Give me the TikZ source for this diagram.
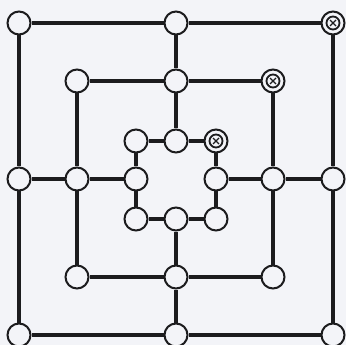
\documentclass[tikz,border=0pt]{standalone}
\usepackage{xcolor}
\definecolor{paper}{RGB}{243,244,248}
\definecolor{ink}{RGB}{28,28,30}

\tikzset{
  point/.style={circle,draw=ink,line width=2pt,fill=paper,minimum size=23pt,inner sep=0pt},
  taken/.style={point,path picture={
      \draw[ink,line width=1.8pt] (path picture bounding box.center) circle (6.5pt);
      \draw[ink,line width=1.2pt] ([shift={(-3pt,-3pt)}]path picture bounding box.center) -- ([shift={(3pt,3pt)}]path picture bounding box.center);
      \draw[ink,line width=1.2pt] ([shift={(-3pt,3pt)}]path picture bounding box.center) -- ([shift={(3pt,-3pt)}]path picture bounding box.center);
  }},
  board/.style={ink,line width=3.2pt}
}

\begin{document}
\begin{tikzpicture}[x=1pt,y=-1pt]
\fill[paper] (0,0) rectangle (346,345);
\useasboundingbox (0,0) rectangle (346,345);

% outer square
\node[point] (otl) at (19,23) {};
\node[point] (otc) at (176,23) {};
\node[taken] (otr) at (333,23) {};
\node[point] (oml) at (19,179) {};
\node[point] (omr) at (333,179) {};
\node[point] (obl) at (19,335) {};
\node[point] (obc) at (176,335) {};
\node[point] (obr) at (333,335) {};

% middle square
\node[point] (mtl) at (77,81) {};
\node[point] (mtc) at (176,81) {};
\node[taken] (mtr) at (273,81) {};
\node[point] (mml) at (77,179) {};
\node[point] (mmr) at (273,179) {};
\node[point] (mbl) at (77,277) {};
\node[point] (mbc) at (176,277) {};
\node[point] (mbr) at (273,277) {};

% inner square
\node[point] (itl) at (136,141) {};
\node[point] (itc) at (176,141) {};
\node[taken] (itr) at (216,141) {};
\node[point] (iml) at (136,179) {};
\node[point] (imr) at (216,179) {};
\node[point] (ibl) at (136,219) {};
\node[point] (ibc) at (176,219) {};
\node[point] (ibr) at (216,219) {};

% squares
\draw[board] (otl) -- (otc) -- (otr) -- (omr) -- (obr) -- (obc) -- (obl) -- (oml) -- (otl);
\draw[board] (mtl) -- (mtc) -- (mtr) -- (mmr) -- (mbr) -- (mbc) -- (mbl) -- (mml) -- (mtl);
\draw[board] (itl) -- (itc) -- (itr) -- (imr) -- (ibr) -- (ibc) -- (ibl) -- (iml) -- (itl);

% cross lines
\draw[board] (otc) -- (mtc) -- (itc);
\draw[board] (oml) -- (mml) -- (iml);
\draw[board] (omr) -- (mmr) -- (imr);
\draw[board] (obc) -- (mbc) -- (ibc);
\end{tikzpicture}
\end{document}
